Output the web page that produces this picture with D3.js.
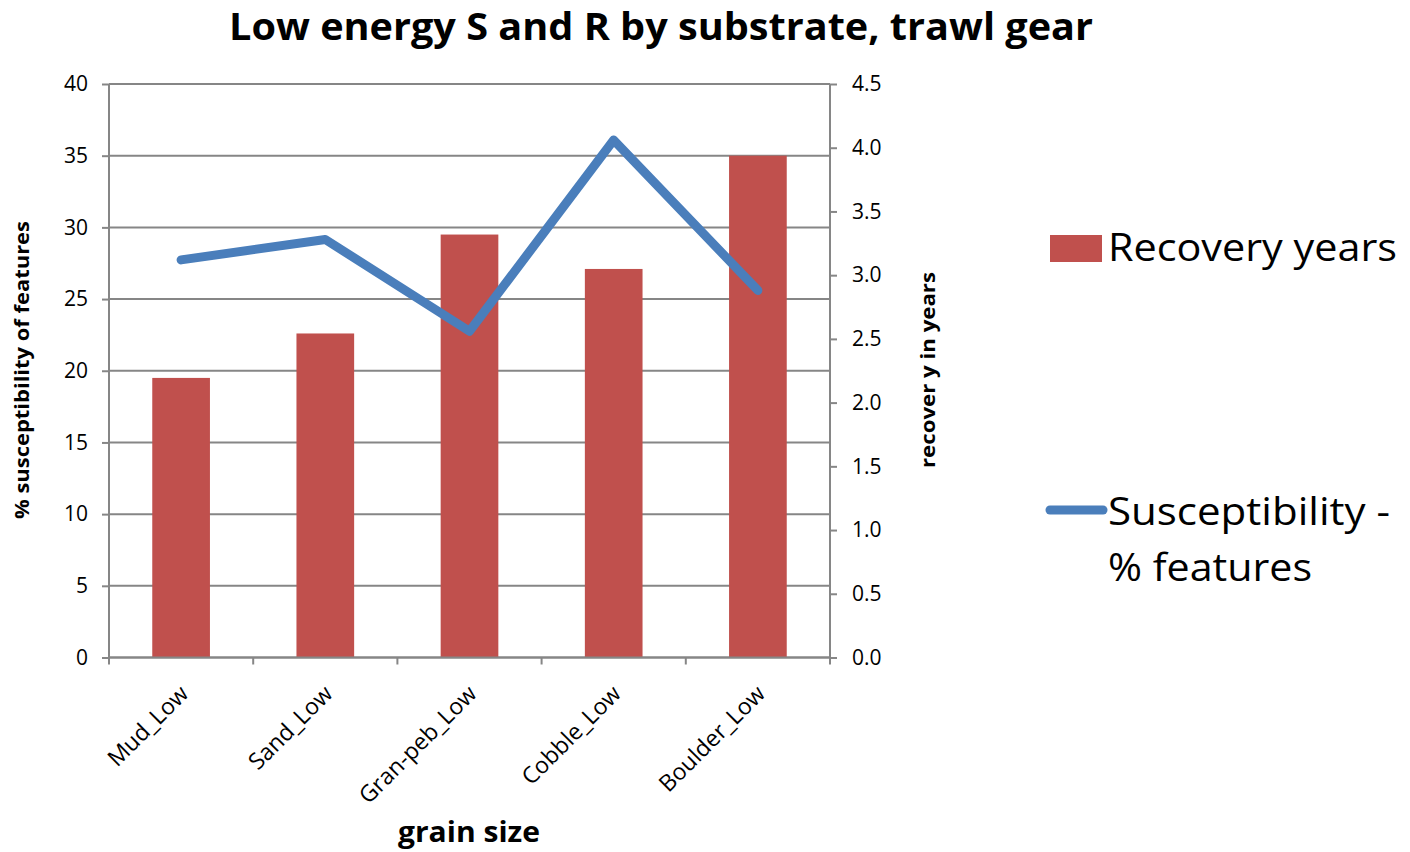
<!DOCTYPE html>
<html>
<head>
<meta charset="utf-8">
<script src="https://cdn.jsdelivr.net/npm/d3@7"></script>
<style>
  html, body { margin: 0; padding: 0; background: #ffffff; }
  svg text { font-family: "Open Sans", "Noto Sans", "DejaVu Sans", sans-serif; fill: #000; }
</style>
</head>
<body>
<svg id="chart" width="1410" height="852"></svg>
<script>
// Substrate categories along the x axis
const categories = ["Mud_Low", "Sand_Low", "Gran-peb_Low", "Cobble_Low", "Boulder_Low"];
// Bar series (primary axis)
const recoveryYears = [19.5, 22.6, 29.5, 27.1, 35.0];
// Line series (secondary axis)
const susceptibility = [3.12, 3.28, 2.56, 4.06, 2.88];
// Axis tick values
const leftTicks = [0, 5, 10, 15, 20, 25, 30, 35, 40];
const rightTicks = [0, 0.5, 1, 1.5, 2, 2.5, 3, 3.5, 4, 4.5];

const svg = d3.select("#chart");
const plot = { left: 109, right: 830, top: 84, bottom: 657.5 };
const gridColor = "#868686";
const barColor = "#C0504D";
const lineColor = "#4A7EBB";

const x = d3.scaleBand().domain(categories)
  .range([plot.left, plot.right]).paddingInner(0.6).paddingOuter(0.3);
const step = x.step();
const yL = d3.scaleLinear().domain([0, 40]).range([plot.bottom, plot.top]);
const yR = d3.scaleLinear().domain([0, 4.5]).range([plot.bottom, plot.top]);

// Horizontal gridlines on the primary scale
svg.append("g").selectAll("line").data(leftTicks).join("line")
  .attr("x1", plot.left).attr("x2", plot.right)
  .attr("y1", d => yL(d)).attr("y2", d => yL(d))
  .attr("stroke", gridColor).attr("stroke-width", 2);

// Bars
svg.append("g").selectAll("rect").data(categories).join("rect")
  .attr("x", d => x(d)).attr("width", x.bandwidth())
  .attr("y", (d, i) => yL(recoveryYears[i]))
  .attr("height", (d, i) => yL(0) - yL(recoveryYears[i]))
  .attr("fill", barColor);

// Left axis
const leftAxis = svg.append("g").attr("transform", `translate(${plot.left},0)`)
  .call(d3.axisLeft(yL).tickValues(leftTicks).tickSize(7).tickPadding(14).tickFormat(d3.format("d")));
// Right axis
const rightAxis = svg.append("g").attr("transform", `translate(${plot.right},0)`)
  .call(d3.axisRight(yR).tickValues(rightTicks).tickSize(7).tickPadding(15).tickFormat(d3.format(".1f")));
// Bottom axis; ticks sit on the category boundaries
const bottomAxis = svg.append("g").attr("transform", `translate(0,${plot.bottom})`)
  .call(d3.axisBottom(x).tickSize(0).tickFormat(""));
bottomAxis.selectAll(".bnd").data(categories.map(c => x(c) - step * 0.3).concat([plot.right]))
  .join("line").attr("class", "bnd")
  .attr("x1", d => d).attr("x2", d => d).attr("y1", 0).attr("y2", 7)
  .attr("stroke", gridColor).attr("stroke-width", 2);

[leftAxis, rightAxis, bottomAxis].forEach(g => {
  g.select(".domain").attr("stroke", gridColor).attr("stroke-width", 2);
  g.selectAll(".tick line").attr("stroke", gridColor).attr("stroke-width", 2);
  g.selectAll(".tick text").style("font-size", "21px").attr("fill", "#000");
});
leftAxis.select(".domain").attr("d", `M0,${plot.top}V${plot.bottom}`);
rightAxis.select(".domain").attr("d", `M0,${plot.top}V${plot.bottom}`);
bottomAxis.select(".domain").attr("d", `M${plot.left},0H${plot.right}`);

// Rotated category labels
svg.append("g").selectAll("text").data(categories).join("text")
  .attr("transform", d => `translate(${x(d) + x.bandwidth() / 2 + 3},${plot.bottom + 32}) rotate(-45)`)
  .attr("text-anchor", "end")
  .attr("dy", "0.35em")
  .style("font-size", "23px")
  .text(d => d);

// Susceptibility line on the secondary scale
const line = d3.line()
  .x((d, i) => x(categories[i]) + x.bandwidth() / 2)
  .y(d => yR(d));
svg.append("path").datum(susceptibility)
  .attr("d", line)
  .attr("fill", "none").attr("stroke", lineColor)
  .attr("stroke-width", 9).attr("stroke-linejoin", "round").attr("stroke-linecap", "round");

// Title
svg.append("text").attr("x", 661).attr("y", 40).attr("text-anchor", "middle")
  .attr("textLength", 864).attr("lengthAdjust", "spacingAndGlyphs")
  .style("font-size", "38px").style("font-weight", "bold")
  .text("Low energy S and R by substrate, trawl gear");

// Axis titles
svg.append("text").attr("transform", `translate(29,370) rotate(-90)`)
  .attr("text-anchor", "middle").attr("textLength", 298).attr("lengthAdjust", "spacingAndGlyphs")
  .style("font-size", "20px").style("font-weight", "bold")
  .text("% susceptibility of features");
svg.append("text").attr("transform", `translate(935,370) rotate(-90)`)
  .attr("text-anchor", "middle").attr("textLength", 196).attr("lengthAdjust", "spacingAndGlyphs")
  .style("font-size", "20px").style("font-weight", "bold")
  .text("recover y in years");
svg.append("text").attr("x", 469).attr("y", 842).attr("text-anchor", "middle")
  .attr("textLength", 142).attr("lengthAdjust", "spacingAndGlyphs")
  .style("font-size", "29px").style("font-weight", "bold")
  .text("grain size");

// Legend
const legend = svg.append("g");
legend.append("rect").attr("x", 1050).attr("y", 235).attr("width", 52).attr("height", 27).attr("fill", barColor);
legend.append("text").attr("x", 1108).attr("y", 261)
  .attr("textLength", 289).attr("lengthAdjust", "spacingAndGlyphs")
  .style("font-size", "38px").text("Recovery years");
legend.append("line").attr("x1", 1050).attr("x2", 1103).attr("y1", 510).attr("y2", 510)
  .attr("stroke", lineColor).attr("stroke-width", 9).attr("stroke-linecap", "round");
legend.append("text").attr("x", 1108).attr("y", 525)
  .attr("textLength", 282).attr("lengthAdjust", "spacingAndGlyphs")
  .style("font-size", "38px").text("Susceptibility -");
legend.append("text").attr("x", 1108).attr("y", 581)
  .attr("textLength", 204).attr("lengthAdjust", "spacingAndGlyphs")
  .style("font-size", "38px").text("% features");
</script>
</body>
</html>
